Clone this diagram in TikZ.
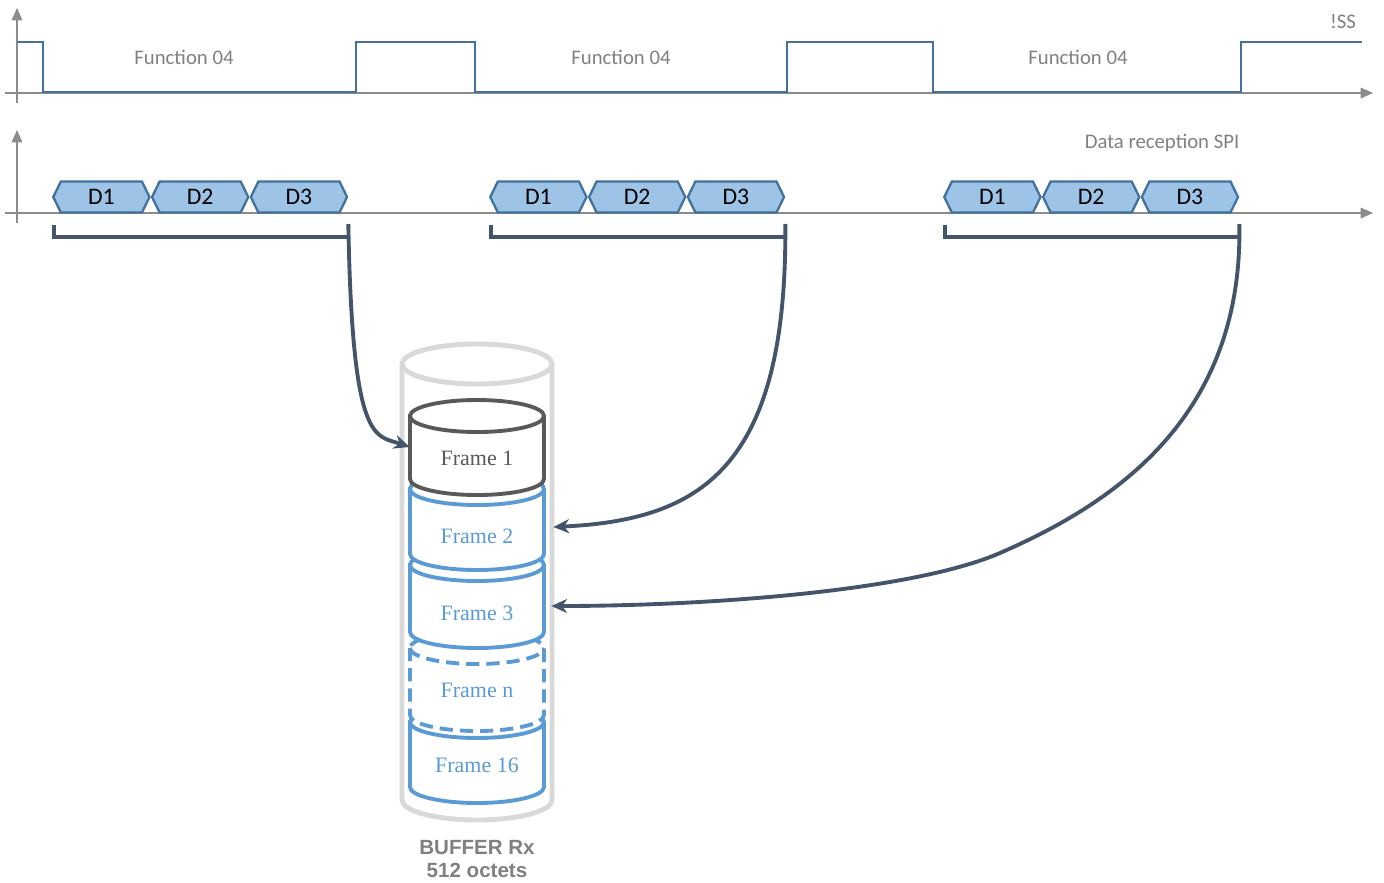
\documentclass[tikz,border=0pt]{standalone}
\usepackage{fontspec}
\setmainfont{Carlito}
\newfontfamily\framefont{Liberation Serif}
\newfontfamily\bufferfont{Liberation Sans}
\usetikzlibrary{shapes.symbols, arrows.meta, positioning}

\definecolor{axisgray}{HTML}{8C8C8C}
\definecolor{labelgray}{HTML}{808080}
\definecolor{ssblue}{HTML}{41719C}
\definecolor{hexfill}{HTML}{9DC3E6}
\definecolor{slate}{HTML}{44546A}
\definecolor{framedark}{HTML}{595959}
\definecolor{frameblue}{HTML}{5B9BD5}
\definecolor{buffergray}{HTML}{D9D9D9}

\begin{document}
\begin{tikzpicture}[
    x=0.02cm, y=-0.02cm,
    axis/.style={axisgray, line width=0.8pt, -{Triangle[length=7pt, width=6pt]}},
    ssline/.style={ssblue, line width=1.6pt},
    datablock/.style={signal, signal to=east and west, signal pointer angle=128, draw=ssblue, fill=hexfill, line width=1.3pt, minimum width=1.925cm, minimum height=0.62cm, inner sep=0pt, font=\fontsize{13.5}{15}\selectfont},
    caption/.style={text=labelgray, font=\fontsize{11.8}{14}\selectfont},
    bracket/.style={slate, line width=2.2pt},
    link/.style={slate, line width=2.2pt, -{Stealth[length=9pt, width=8pt]}},
    framelabel/.style={minimum width=2.68cm, inner sep=0pt, font=\framefont\fontsize{12.5}{14}\selectfont},
    framedash/.style={dash pattern=on 7.5pt off 4pt},
    bufferlabel/.style={text=labelgray, align=center, font=\bufferfont\bfseries\fontsize{11.7}{13.6}\selectfont}
]
\useasboundingbox (0,0) rectangle (1384,883);

% !SS chronogram
\draw[axis] (17,103) -- (17,8);
\draw[axis] (5,93) -- (1373,93);
\draw[ssline] (17,42) -- (43,42) -- (43,92) -- (356,92) -- (356,42) -- (475,42) -- (475,92)
    -- (787,92) -- (787,42) -- (933,42) -- (933,92) -- (1241,92) -- (1241,42) -- (1362,42);
\foreach \i/\x in {1/184, 2/621, 3/1078}
    \node[caption] (func\i) at (\x,57) {Function 04};
\node[caption] (ss) at (1343,22) {!SS};

% SPI data chronogram
\draw[axis] (17,223) -- (17,130);
\draw[axis] (5,213) -- (1373,213);
\node[caption] (spi) at (1162,143) {Data reception SPI};

\foreach \g/\x in {1/52, 2/489, 3/943} {
    \node[datablock, anchor=west] (g\g d1) at (\x,197) {D1};
    \node[datablock, right=0pt of g\g d1] (g\g d2) {D2};
    \node[datablock, right=0pt of g\g d2] (g\g d3) {D3};
    \draw[bracket] ([xshift=0.04cm, yshift=-0.56cm]g\g d1.west) -- ([xshift=0.04cm, yshift=-0.8cm]g\g d1.west)
        -- ([yshift=-0.8cm]g\g d3.east);
}

% Buffer Rx
\draw[buffergray, line width=2.8pt] (402,364) -- (402,800)
    arc[start angle=180, end angle=360, x radius=1.5cm, y radius=0.4cm] -- (552,364);
\draw[buffergray, line width=2.8pt] (477,364) ellipse [x radius=1.5cm, y radius=0.4cm];
\node[bufferlabel] (bufname) at (477,859) {BUFFER Rx\\512 octets};

% Frames, from the bottom up
\foreach \name/\yt/\yb/\col/\dsh/\ty/\txt in {
    f16/722/787/frameblue/solid/765/Frame 16,
    fn/648/715/frameblue/framedash/690/Frame n,
    f3/565/632/frameblue/solid/613/Frame 3,
    f2/489/554/frameblue/solid/536/Frame 2,
    f1/416/479/framedark/solid/458/Frame 1} {
    \draw[\col, \dsh, line width=2.2pt, fill=white] (410,\yt) -- (410,\yb)
        arc[start angle=180, end angle=360, x radius=1.34cm, y radius=0.32cm]
        -- (544,\yt) arc[start angle=0, end angle=180, x radius=1.34cm, y radius=0.32cm] -- cycle;
    \draw[\col, \dsh, line width=2.2pt] (410,\yt)
        arc[start angle=180, end angle=360, x radius=1.34cm, y radius=0.32cm];
    \node[framelabel, text=\col] (\name) at (477,\ty) {\txt};
}

% Transfers to the buffer
\draw[link] ([yshift=-0.54cm]g1d3.east) .. controls +(4,221) and +(-35,-12) .. ([yshift=0.22cm]f1.west);
\draw[link] ([yshift=-0.54cm]g2d3.east) .. controls +(2,246) and +(146,-7) .. ([xshift=0.18cm, yshift=0.18cm]f2.east);
\draw[link] ([yshift=-0.54cm]g3d3.east) .. controls +(4,196) and +(110,-48) .. (1000,553)
    .. controls +(-90,39) and +(149,0) .. ([xshift=0.14cm, yshift=0.14cm]f3.east);
\end{tikzpicture}
\end{document}
